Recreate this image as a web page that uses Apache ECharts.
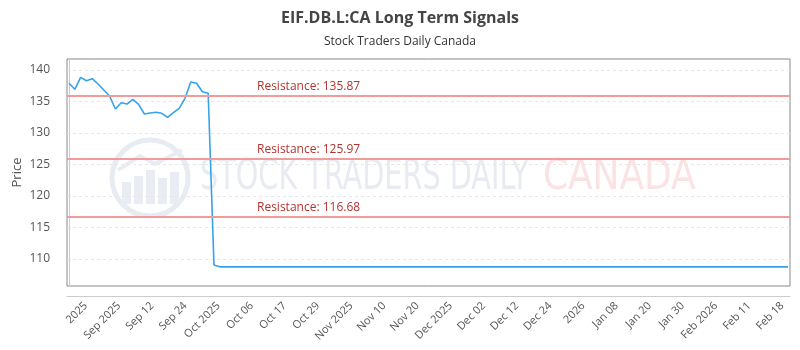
<!DOCTYPE html>
<html>
<head>
<meta charset="utf-8">
<script src="https://cdn.jsdelivr.net/npm/echarts@6/dist/echarts.min.js"></script>
<style>
  html, body { margin: 0; padding: 0; background: #fff; }
  #chart { width: 800px; height: 350px; }
</style>
</head>
<body>
<div id="chart"></div>
<script>
// trading day index of each point, and the close price on it
const dayIndex = [0, 1, 2, 3, 4, 5, 6, 7, 8, 9, 10, 11, 12, 13, 14, 15, 16, 17, 18, 19, 20, 21, 22, 23, 24, 25, 26, 124]
const prices = [137.89, 136.94, 138.84, 138.3, 138.62, 137.78, 136.83, 135.87, 133.81, 134.81, 134.6, 135.35, 134.56,
  133.02, 133.17, 133.29, 133.13, 132.49, 133.22, 133.92, 135.51, 138.1, 137.89, 136.56, 136.3, 109.05, 108.75, 108.75]

const resistance = [135.87, 125.97, 116.68]

const xTickLabels = ['2025', 'Sep 2025', 'Sep 12', 'Sep 24', 'Oct 2025', 'Oct 06', 'Oct 17', 'Oct 29', 'Nov 2025',
  'Nov 10', 'Nov 20', 'Dec 2025', 'Dec 02', 'Dec 12', 'Dec 24', '2026', 'Jan 08', 'Jan 20', 'Jan 30', 'Feb 2026',
  'Feb 11', 'Feb 18']
const yTicks = [110, 115, 120, 125, 130, 135, 140]

// x labels are evenly spaced along the axis (in trading day units)
const labelStart = 2.9
const labelStep = 5.72
const xMin = -0.35
const xMax = 124.35

const labelPositions = xTickLabels.map((_, i) => labelStart + i * labelStep)

const chart = echarts.init(document.getElementById('chart'))

const option = {
  animation: false,
  textStyle: { fontFamily: '"Open Sans", sans-serif' },
  title: {
    text: 'EIF.DB.L:CA Long Term Signals',
    subtext: 'Stock Traders Daily Canada',
    left: 'center',
    top: 5,
    itemGap: 10,
    textStyle: { fontSize: 16, fontWeight: 'bold', color: '#444' },
    subtextStyle: { fontSize: 12, color: '#333' },
  },
  graphic: [
    {
      type: 'circle',
      silent: true,
      z: 0,
      shape: { cx: 150, cy: 178, r: 38 },
      style: { fill: 'none', stroke: '#e7ebf2', lineWidth: 5 },
    },
    {
      type: 'group',
      silent: true,
      z: 0,
      children: [
        { type: 'rect', shape: { x: 122, y: 182, width: 9, height: 22 }, style: { fill: '#e9edf3' } },
        { type: 'rect', shape: { x: 134, y: 176, width: 9, height: 28 }, style: { fill: '#e9edf3' } },
        { type: 'rect', shape: { x: 146, y: 170, width: 9, height: 34 }, style: { fill: '#e9edf3' } },
        { type: 'rect', shape: { x: 158, y: 178, width: 9, height: 26 }, style: { fill: '#e9edf3' } },
        { type: 'rect', shape: { x: 170, y: 172, width: 9, height: 32 }, style: { fill: '#e9edf3' } },
        { type: 'polyline', shape: { points: [[118, 170], [140, 156], [155, 164], [182, 150]] }, style: { stroke: '#e9edf3', lineWidth: 4, fill: 'none' } },
      ],
    },
    {
      type: 'text',
      silent: true,
      z: 0,
      x: 200,
      y: 178,
      scaleX: 0.76,
      style: {
        text: 'STOCK TRADERS DAILY',
        font: '42px "DejaVu Sans Condensed"',
        fill: '#e8ecf2',
        verticalAlign: 'middle',
      },
    },
    {
      type: 'text',
      silent: true,
      z: 0,
      x: 543,
      y: 178,
      scaleX: 0.95,
      style: {
        text: 'CANADA',
        font: '42px "DejaVu Sans Condensed"',
        fill: '#fbe3e3',
        verticalAlign: 'middle',
      },
    },
  ],
  grid: {
    left: 67,
    right: 10,
    top: 59,
    bottom: 64,
    show: true,
    borderColor: '#888',
    borderWidth: 1,
    outerBoundsMode: 'none',
  },
  xAxis: {
    type: 'value',
    min: xMin,
    max: xMax,
    offset: 10,
    axisLine: { show: true, lineStyle: { color: '#ccc' } },
    axisTick: { show: false, customValues: labelPositions },
    splitLine: { show: false },
    axisLabel: {
      customValues: labelPositions,
      rotate: 45,
      margin: 8,
      fontSize: 11,
      color: '#555',
      formatter: (v) => xTickLabels[Math.round((v - labelStart) / labelStep)],
    },
  },
  yAxis: {
    type: 'value',
    min: 105.71,
    max: 141.75,
    offset: 10,
    name: 'Price',
    nameLocation: 'middle',
    nameGap: 33,
    nameMoveOverlap: false,
    nameTextStyle: { fontSize: 13, color: '#555' },
    axisLine: { show: true, lineStyle: { color: '#ccc' } },
    axisTick: { show: false, customValues: yTicks },
    axisLabel: { customValues: yTicks, margin: 7, fontSize: 12, color: '#555' },
    splitLine: { show: true, lineStyle: { color: '#e6e6e6', type: [3, 3] } },
  },
  series: [
    {
      type: 'line',
      data: dayIndex.map((d, i) => [d, prices[i]]),
      showSymbol: false,
      lineStyle: { color: '#36a2eb', width: 1.6 },
      z: 3,
      markLine: {
        silent: true,
        symbol: 'none',
        lineStyle: { color: '#f19c9a', width: 2, type: 'solid' },
        label: {
          position: 'insideStartTop',
          distance: [190, 3],
          color: '#b5332e',
          fontSize: 12,
          formatter: (p) => 'Resistance: ' + p.value.toFixed(2),
        },
        data: resistance.map((r) => ({ yAxis: r })),
      },
    },
  ],
}

chart.setOption(option)
</script>
</body>
</html>
